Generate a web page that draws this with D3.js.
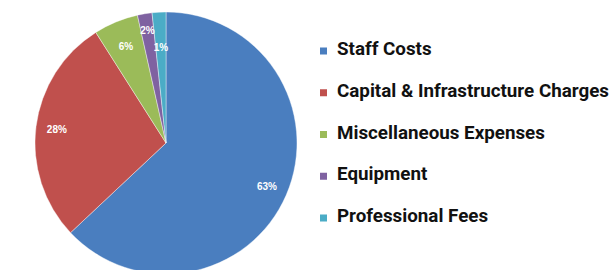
<!DOCTYPE html>
<html lang="en">
<head>
<meta charset="UTF-8">
<title>Expenditure Breakdown</title>
<style>
  body { margin: 0; background: #fff; }
  .legend text { font-family: Roboto, "Liberation Sans", sans-serif; font-weight: bold; fill: #111; }
  .slice-label { font-family: "Liberation Sans", Arial, sans-serif; font-weight: bold; fill: #fff; font-size: 10px; }
</style>
</head>
<body>
<div id="chart"></div>
<script src="https://d3js.org/d3.v7.min.js"></script>
<script>
  // data
  const categories = ["Staff Costs", "Capital & Infrastructure Charges", "Miscellaneous Expenses", "Equipment", "Professional Fees"];
  const shares = [63, 28, 5.5, 1.8, 1.7];
  const labels = ["63%", "28%", "6%", "2%", "1%"];
  const colors = ["#4a7ebf", "#c0504d", "#9bbb59", "#7f62a1", "#4bacc6"];

  const width = 611, height = 270;
  const cx = 166, cy = 143, r = 131;

  const svg = d3.select("#chart").append("svg")
    .attr("width", width)
    .attr("height", height);

  const pie = d3.pie().sort(null).value(d => d.value);
  const arc = d3.arc().innerRadius(0).outerRadius(r);
  const data = categories.map((c, i) => ({ name: c, value: shares[i], label: labels[i], color: colors[i] }));
  const arcs = pie(data);

  const g = svg.append("g").attr("transform", `translate(${cx},${cy})`);

  g.selectAll("path")
    .data(arcs)
    .enter().append("path")
    .attr("d", arc)
    .attr("fill", d => d.data.color)
    .attr("stroke", "#fff")
    .attr("stroke-opacity", 0.5)
    .attr("stroke-width", 0.8);

  // label radius differs per slice (small ones sit near the rim)
  const labelR = [0.84, 0.84, 0.8, 0.87, 0.73];
  g.selectAll("text")
    .data(arcs)
    .enter().append("text")
    .attr("class", "slice-label")
    .attr("text-anchor", "middle")
    .attr("dy", "0.35em")
    .attr("transform", (d, i) => {
      const a = (d.startAngle + d.endAngle) / 2;
      const rr = r * labelR[i];
      return `translate(${Math.sin(a) * rr},${-Math.cos(a) * rr})`;
    })
    .text(d => d.data.label);

  // legend (y = text baseline)
  const ly = d3.scalePoint().domain(categories).range([55, 222]);
  const legend = svg.append("g").attr("class", "legend");
  const items = legend.selectAll("g")
    .data(data)
    .enter().append("g")
    .attr("transform", d => `translate(320,${ly(d.name)})`);
  items.append("rect")
    .attr("x", 0).attr("y", -7.5)
    .attr("width", 7).attr("height", 7)
    .attr("fill", d => d.color);
  items.append("text")
    .attr("x", 17)
    .style("font-size", "18.8px")
    .text(d => d.name);
</script>
</body>
</html>
